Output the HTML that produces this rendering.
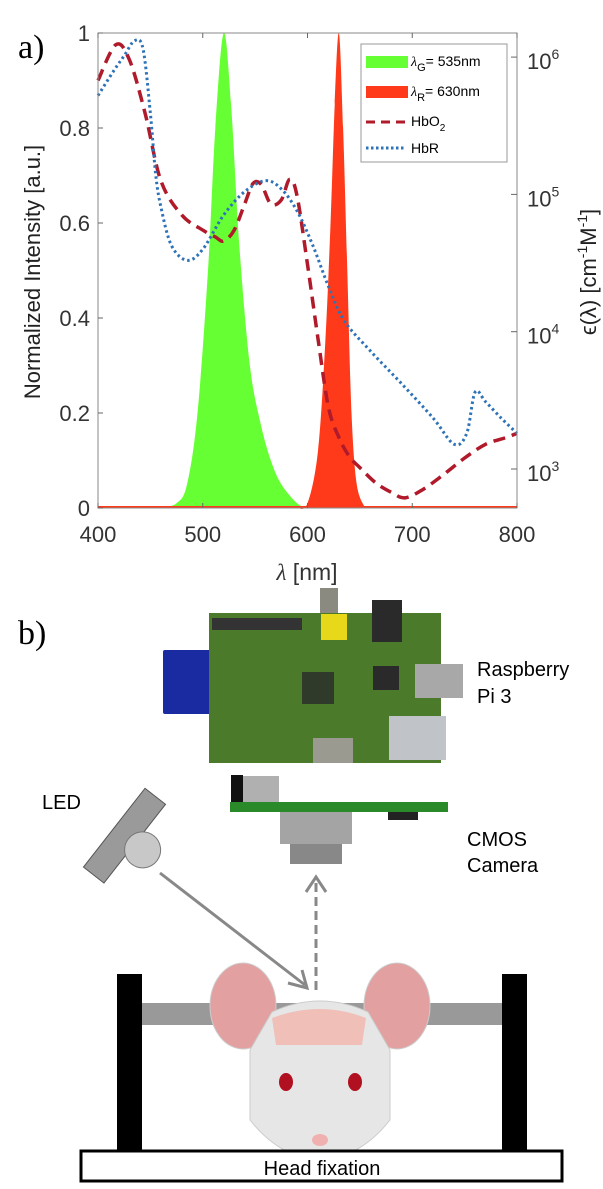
<!DOCTYPE html>
<html><head><meta charset="utf-8"><style>
body{margin:0;background:#fff;width:603px;height:1189px;overflow:hidden;font-family:"Liberation Sans",sans-serif}
svg{position:absolute;left:0;top:0}
</style></head><body>
<svg width="603" height="1189">
<g id="chart"></g>
<g>
<text x="18" y="644" font-family="Liberation Serif" font-size="34">b)</text>
<rect x="163" y="650" width="50" height="64" fill="#1a2aa0" rx="2"/>
<rect x="320" y="588" width="18" height="30" fill="#8a8a80"/>
<rect x="209" y="613" width="232" height="150" fill="#4a7a2a"/>
<rect x="212" y="618" width="90" height="12" fill="#333"/>
<rect x="321" y="614" width="26" height="26" fill="#e8d81a"/>
<rect x="372" y="600" width="30" height="42" fill="#2a2a2a"/>
<rect x="302" y="672" width="32" height="32" fill="#2f3a2a"/>
<rect x="373" y="666" width="26" height="24" fill="#2a2a2a"/>
<rect x="415" y="664" width="48" height="34" fill="#a8a8a8"/>
<rect x="389" y="716" width="57" height="44" fill="#c0c4c8"/>
<rect x="313" y="738" width="40" height="25" fill="#9a9a90"/>
<text x="477" y="676" font-size="20">Raspberry</text>
<text x="477" y="703" font-size="20">Pi 3</text>
<rect x="231" y="775" width="12" height="27" fill="#111"/>
<rect x="243" y="776" width="36" height="26" fill="#b0b0b0"/>
<rect x="230" y="802" width="218" height="10" fill="#2a8a2a"/>
<rect x="388" y="812" width="30" height="8" fill="#222"/>
<rect x="280" y="812" width="72" height="32" fill="#a4a4a4"/>
<rect x="290" y="844" width="52" height="20" fill="#888"/>
<text x="467" y="846" font-size="20">CMOS</text>
<text x="467" y="872" font-size="20">Camera</text>
<text x="42" y="809" font-size="20">LED</text>
<g transform="rotate(-52 130 840)">
<rect x="80" y="820" width="100" height="26" fill="#9a9a9a" stroke="#555"/>
<circle cx="130" cy="856" r="18" fill="#c8c8c8" stroke="#777"/>
</g>
<line x1="160" y1="873" x2="305" y2="985" stroke="#888" stroke-width="3"/>
<polyline points="288,983 307,988 302,970" fill="none" stroke="#888" stroke-width="3"/>
<line x1="316" y1="990" x2="316" y2="882" stroke="#888" stroke-width="3" stroke-dasharray="9,5"/>
<polyline points="306,892 316,877 326,892" fill="none" stroke="#888" stroke-width="3"/>
<rect x="141" y="1003" width="361" height="22" fill="#999"/>
<rect x="117" y="974" width="25" height="177" fill="#000"/>
<rect x="502" y="974" width="25" height="177" fill="#000"/>
<ellipse cx="243" cy="1006" rx="33" ry="43" fill="#e3a0a0" stroke="#ccc"/>
<ellipse cx="397" cy="1006" rx="33" ry="43" fill="#e3a0a0" stroke="#ccc"/>
<path d="M272 1012 Q320 990 368 1012 L390 1050 L390 1120 Q360 1158 320 1160 Q280 1158 250 1120 L250 1050 Z" fill="#e6e6e6" stroke="#ccc"/>
<path d="M272 1018 Q320 1000 366 1018 L362 1045 L276 1045 Z" fill="#f0c0b8"/>
<ellipse cx="286" cy="1082" rx="7" ry="9" fill="#b01020"/>
<ellipse cx="355" cy="1082" rx="7" ry="9" fill="#b01020"/>
<ellipse cx="320" cy="1140" rx="8" ry="6" fill="#f0b0b0"/>
<rect x="81" y="1151" width="481" height="30" fill="#fff" stroke="#000" stroke-width="3"/>
<text x="322" y="1175" font-size="20" text-anchor="middle">Head fixation</text>
</g>
</svg>
<script>
const wlG=[460,475,485,495,505,512,520,527,535,545,555,565,575,590,600];
const intG=[0,0.01,0.05,0.2,0.5,0.8,1,0.85,0.55,0.3,0.18,0.1,0.05,0.01,0];
const wlR=[590,600,610,617,622,626,630,634,638,642,647,655];
const intR=[0,0.01,0.12,0.35,0.6,0.85,1,0.8,0.5,0.2,0.05,0];
const wlO=[400,417,430,445,460,480,500,512,520,530,540,548,556,565,575,583,590,600,610,620,630,640,650,665,680,693,710,730,750,770,790,800];
const logO=[5.83,6.09,5.98,5.59,5.10,4.85,4.74,4.69,4.66,4.74,4.93,5.08,5.07,4.93,4.96,5.11,4.99,4.49,3.95,3.45,3.23,3.09,3.01,2.90,2.83,2.79,2.85,2.96,3.08,3.18,3.23,3.26];
const wlD=[400,415,425,435,443,450,455,460,470,485,500,520,540,560,575,590,605,620,635,660,690,720,740,752,760,770,785,800];
const logD=[5.72,5.90,6.01,6.12,6.06,5.59,5.15,4.91,4.63,4.52,4.60,4.85,5.02,5.10,5.04,4.88,4.63,4.33,4.08,3.86,3.62,3.37,3.18,3.26,3.56,3.49,3.37,3.26];
const xTicks=[400,500,600,700,800];
const yTicks=[0,0.2,0.4,0.6,0.8,1];
const yTickLabels=["0","0.2","0.4","0.6","0.8","1"];
const rTicks=[3,4,5,6];
const L=98,R=517,T=33,B=508;
const X=w=>L+(w-400)/400*(R-L);
const Y=v=>B-v*(B-T);
const YR=l=>469-(l-3)*137.3;
const NS='http://www.w3.org/2000/svg';
const g=document.getElementById('chart');
function mk(t,a,p){const e=document.createElementNS(NS,t);for(const k in a)e.setAttribute(k,a[k]);(p||g).appendChild(e);return e;}
function smooth(pts){let d='M'+pts[0][0]+','+pts[0][1];for(let i=0;i<pts.length-1;i++){const p0=pts[Math.max(i-1,0)],p1=pts[i],p2=pts[i+1],p3=pts[Math.min(i+2,pts.length-1)];
const c1=[p1[0]+(p2[0]-p0[0])/6,p1[1]+(p2[1]-p0[1])/6],c2=[p2[0]-(p3[0]-p1[0])/6,p2[1]-(p3[1]-p1[1])/6];d+=' C'+c1+' '+c2+' '+p2;}return d;}
const lbl=mk('text',{x:18,y:58,'font-family':'Liberation Serif','font-size':34});lbl.textContent='a)';


function area(wl,v,col,name){const pts=wl.map((w,i)=>[X(w),Y(v[i])]);let d=smooth(pts)+' Z';
const p=mk('path',{d:d,fill:col});

}
area(wlG,intG,'#66ff33','green-led-spectrum');
area(wlR,intR,'#ff3a1a','red-led-spectrum');
mk('line',{x1:L,y1:B-1,x2:R,y2:B-1,stroke:'#ff3a1a','stroke-width':2});
function line(wl,v,col,dash,w,name){const p=mk('path',{d:smooth(wl.map((x,i)=>[X(x),YR(v[i])])),fill:'none',stroke:col,'stroke-width':w,'stroke-dasharray':dash});

}
line(wlO,logO,'#b01a2a','12,7',3.5,'hbo2-line');
line(wlD,logD,'#2e72b8','2.5,3',3,'hbr-line');
mk('rect',{x:L,y:T,width:R-L,height:B-T,fill:'none',stroke:'#888','stroke-width':1});
xTicks.forEach(t=>{mk('line',{x1:X(t),y1:B,x2:X(t),y2:B-5,stroke:'#666'});mk('line',{x1:X(t),y1:T,x2:X(t),y2:T+5,stroke:'#666'});
const e=mk('text',{x:X(t),y:B+34,'font-size':22,'text-anchor':'middle',fill:'#333'});e.textContent=t;

});
yTicks.forEach((t,i)=>{mk('line',{x1:L,y1:Y(t),x2:L+5,y2:Y(t),stroke:'#666'});
const e=mk('text',{x:L-8,y:Y(t)+8,'font-size':22,'text-anchor':'end',fill:'#333'});e.textContent=yTickLabels[i];

});
rTicks.forEach(t=>{mk('line',{x1:R,y1:YR(t),x2:R-6,y2:YR(t),stroke:'#666'});
const e=mk('text',{x:R+10,y:YR(t)+12,'font-size':22,fill:'#333'});e.innerHTML='10<tspan dy="-10" font-size="14">'+t+'</tspan>';

});
const xt=mk('text',{x:307,y:580,'font-size':23,'text-anchor':'middle',fill:'#333'});xt.innerHTML='<tspan font-style="italic" font-family="Liberation Serif">λ</tspan> [nm]';


const yt=mk('text',{x:-272,y:40,'font-size':22,'text-anchor':'middle',transform:'rotate(-90)',fill:'#222'});yt.textContent='Normalized Intensity [a.u.]';


const rt=mk('text',{x:-272,y:596,'font-size':22,'text-anchor':'middle',transform:'rotate(-90)',fill:'#222'});rt.innerHTML='ϵ(λ) [cm<tspan dy="-9" font-size="14">-1</tspan><tspan dy="9">M</tspan><tspan dy="-9" font-size="14">-1</tspan><tspan dy="9">]</tspan>';


const lg=mk('g',{});


mk('rect',{x:361,y:44,width:146,height:118,fill:'#fff',stroke:'#999'},lg);
mk('rect',{x:366,y:56,width:42,height:12,fill:'#66ff33'},lg);
mk('rect',{x:366,y:86,width:42,height:12,fill:'#ff3a1a'},lg);
mk('line',{x1:366,y1:122,x2:406,y2:122,stroke:'#b01a2a','stroke-width':3,'stroke-dasharray':'9,6'},lg);
mk('line',{x1:366,y1:148,x2:406,y2:148,stroke:'#2e72b8','stroke-width':3,'stroke-dasharray':'2.5,2.5'},lg);
const l1=mk('text',{x:411,y:66,'font-size':14},lg);l1.innerHTML='<tspan font-family="Liberation Serif" font-style="italic">λ</tspan><tspan dy="5" font-size="11">G</tspan><tspan dy="-5">= 535nm</tspan>';
const l2=mk('text',{x:411,y:96,'font-size':14},lg);l2.innerHTML='<tspan font-family="Liberation Serif" font-style="italic">λ</tspan><tspan dy="5" font-size="11">R</tspan><tspan dy="-5">= 630nm</tspan>';
const l3=mk('text',{x:411,y:126,'font-size':14},lg);l3.innerHTML='HbO<tspan dy="5" font-size="10">2</tspan>';
const l4=mk('text',{x:411,y:153,'font-size':14},lg);l4.textContent='HbR';
</script>
</body></html>
